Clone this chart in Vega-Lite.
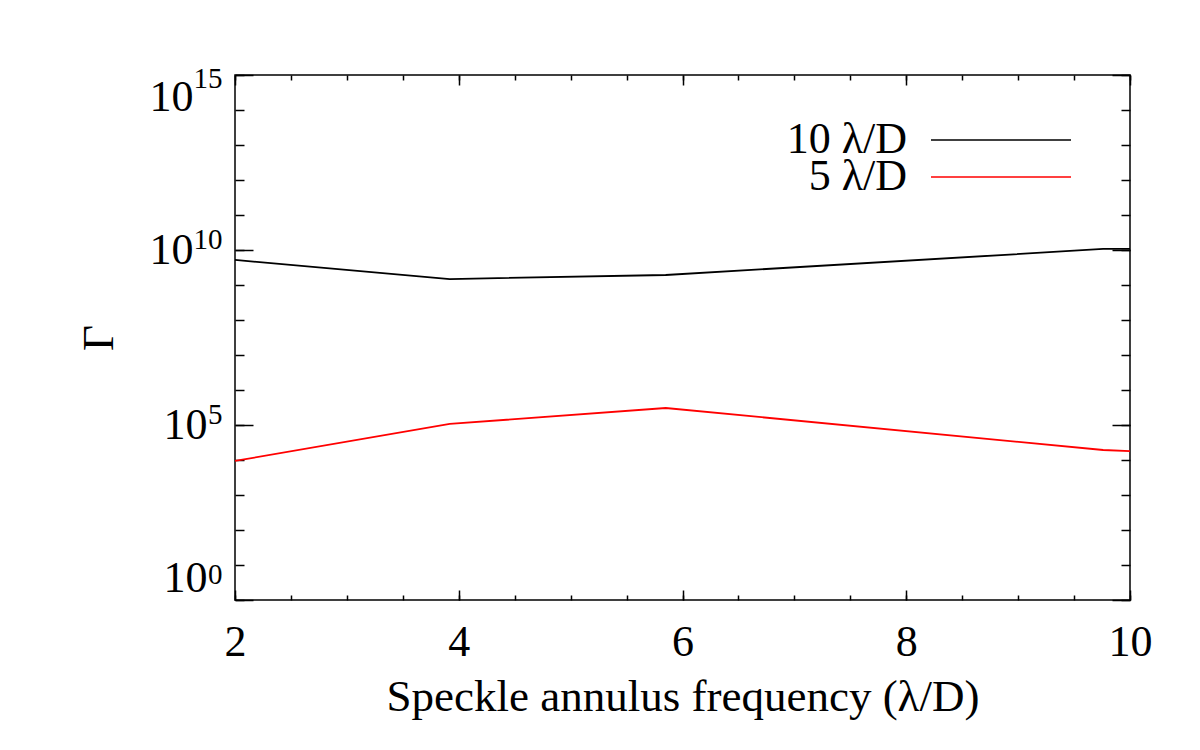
{
  "$schema": "https://vega.github.io/schema/vega-lite/v6.json",
  "width": 895,
  "height": 525,
  "autosize": {"type": "none"},
  "padding": {"left": 235, "top": 75, "right": 70, "bottom": 150},
  "background": "white",
  "config": {
    "font": "Liberation Serif",
    "view": {"stroke": "black", "strokeWidth": 1.5},
    "axis": {
      "domain": false,
      "grid": false,
      "tickColor": "black",
      "tickWidth": 1.5,
      "labelFont": "Liberation Serif",
      "titleFont": "Liberation Serif",
      "labelColor": "black",
      "titleColor": "black",
      "labelFontSize": 44,
      "titleFontSize": 45,
      "titleFontWeight": "normal"
    }
  },
  "data": {
    "values": [
      {"series": "10 λ/D", "freq": 2, "gamma": 5.2e9},
      {"series": "10 λ/D", "freq": 3.92, "gamma": 1.48e9},
      {"series": "10 λ/D", "freq": 5.85, "gamma": 1.93e9},
      {"series": "10 λ/D", "freq": 9.76, "gamma": 1.07e10},
      {"series": "10 λ/D", "freq": 10, "gamma": 1.07e10},
      {"series": "5 λ/D", "freq": 2, "gamma": 9400},
      {"series": "5 λ/D", "freq": 3.92, "gamma": 1.07e5},
      {"series": "5 λ/D", "freq": 5.85, "gamma": 3.06e5},
      {"series": "5 λ/D", "freq": 9.76, "gamma": 1.93e4},
      {"series": "5 λ/D", "freq": 10, "gamma": 1.8e4}
    ]
  },
  "layer": [
    {
      "mark": {"type": "line", "strokeWidth": 1.8},
      "encoding": {
        "x": {
          "field": "freq", "type": "quantitative",
          "scale": {"domain": [2, 10], "nice": false, "zero": false},
          "axis": {"orient": "bottom", "values": [2, 4, 6, 8, 10], "ticks": false, "labelPadding": 20, "labelFlush": false, "labelOverlap": false, "title": "Speckle annulus frequency (λ/D)", "titlePadding": 10}
        },
        "y": {
          "field": "gamma", "type": "quantitative",
          "scale": {"type": "log", "domain": [1, 1e15], "nice": false},
          "axis": {"orient": "left", "values": [10000000000, 1000000000000000], "ticks": false, "labelPadding": 42, "labelFlush": true, "labelOverlap": false,
            "labelExpr": "'10'",
            "title": "Γ", "titlePadding": 28}
        },
        "color": {
          "field": "series", "type": "nominal",
          "scale": {"domain": ["10 λ/D", "5 λ/D"], "range": ["black", "red"]},
          "legend": {"orient": "none", "legendX": 674, "legendY": 43, "values": ["10 λ/D"], "title": null, "symbolType": "M0,0H14", "symbolSize": 400, "symbolStrokeWidth": 1.5, "labelAlign": "right", "labelOffset": -46, "labelFontSize": 44, "labelFont": "Liberation Serif", "labelColor": "black", "padding": 0}
        }
      }
    },
    {
      "mark": {"type": "point", "opacity": 0},
      "encoding": {
        "x": {"field": "freq", "type": "quantitative", "scale": {"domain": [2, 10], "nice": false, "zero": false},
          "axis": {"orient": "bottom", "values": [2, 4, 6, 8, 10], "labels": false, "tickSize": -10, "title": null}},
        "y": {"field": "gamma", "type": "quantitative", "scale": {"type": "log", "domain": [1, 1e15], "nice": false},
          "axis": {"orient": "left", "values": [1, 100000, 10000000000, 1000000000000000], "labels": false, "tickSize": -18, "title": null}}
      }
    },
    {
      "mark": {"type": "point", "opacity": 0},
      "encoding": {
        "x": {"field": "freq", "type": "quantitative", "scale": {"domain": [2, 10], "nice": false, "zero": false},
          "axis": {"orient": "bottom", "values": [2, 2.5, 3, 3.5, 4, 4.5, 5, 5.5, 6, 6.5, 7, 7.5, 8, 8.5, 9, 9.5, 10], "labels": false, "tickSize": -5, "title": null}},
        "y": {"field": "gamma", "type": "quantitative", "scale": {"type": "log", "domain": [1, 1e15], "nice": false},
          "axis": {"orient": "left", "values": [1, 10, 100, 1000, 10000, 100000, 1000000, 10000000, 100000000, 1000000000, 10000000000, 100000000000, 1000000000000, 10000000000000, 100000000000000, 1000000000000000], "labels": false, "tickSize": -9, "title": null}}
      }
    },
    {
      "mark": {"type": "point", "opacity": 0},
      "encoding": {
        "x": {"field": "freq", "type": "quantitative", "scale": {"domain": [2, 10], "nice": false, "zero": false},
          "axis": {"orient": "top", "values": [2, 4, 6, 8, 10], "labels": false, "tickSize": -10, "title": null}},
        "y": {"field": "gamma", "type": "quantitative", "scale": {"type": "log", "domain": [1, 1e15], "nice": false},
          "axis": {"orient": "right", "values": [1, 100000, 10000000000, 1000000000000000], "labels": false, "tickSize": -18, "title": null}}
      }
    },
    {
      "mark": {"type": "point", "opacity": 0},
      "encoding": {
        "x": {"field": "freq", "type": "quantitative", "scale": {"domain": [2, 10], "nice": false, "zero": false},
          "axis": {"orient": "top", "values": [2, 2.5, 3, 3.5, 4, 4.5, 5, 5.5, 6, 6.5, 7, 7.5, 8, 8.5, 9, 9.5, 10], "labels": false, "tickSize": -5, "title": null}},
        "y": {"field": "gamma", "type": "quantitative", "scale": {"type": "log", "domain": [1, 1e15], "nice": false},
          "axis": {"orient": "right", "values": [1, 10, 100, 1000, 10000, 100000, 1000000, 10000000, 100000000, 1000000000, 10000000000, 100000000000, 1000000000000, 10000000000000, 100000000000000, 1000000000000000], "labels": false, "tickSize": -9, "title": null}}
      }
    },
    {
      "mark": {"type": "point", "opacity": 0, "filled": false},
      "encoding": {
        "x": {"field": "freq", "type": "quantitative", "scale": {"domain": [2, 10], "nice": false, "zero": false}, "axis": null},
        "y": {"field": "gamma", "type": "quantitative", "scale": {"type": "log", "domain": [1, 1e15], "nice": false},
          "axis": {"orient": "left", "values": [1, 100000], "ticks": false, "labelPadding": 28, "labelFlush": true, "labelOverlap": false, "labelExpr": "'10'", "title": null}},
        "color": {
          "field": "series", "type": "nominal",
          "scale": {"domain": ["10 λ/D", "5 λ/D"], "range": ["black", "red"]},
          "legend": {"orient": "none", "legendX": 674, "legendY": 80, "values": ["5 λ/D"], "title": null, "symbolType": "M0,0H14", "symbolSize": 400, "symbolStrokeWidth": 1.5, "symbolOpacity": 1, "labelAlign": "right", "labelOffset": -46, "labelFontSize": 44, "labelFont": "Liberation Serif", "labelColor": "black", "padding": 0}
        }
      }
    },
    {
      "mark": {"type": "point", "opacity": 0},
      "encoding": {
        "x": {"field": "freq", "type": "quantitative", "scale": {"domain": [2, 10], "nice": false, "zero": false}, "axis": null},
        "y": {"field": "gamma", "type": "quantitative", "scale": {"type": "log", "domain": [1, 1e15], "nice": false},
          "axis": {"orient": "left", "values": [1, 100000, 10000000000, 1000000000000000], "ticks": false, "labelPadding": 13, "labelFlush": true, "labelOverlap": false, "labelFontSize": 29, "labelOffset": -11,
            "labelExpr": "datum.value < 10 ? '0' : datum.value < 1e6 ? '5' : datum.value < 1e11 ? '10' : '15'", "title": null}}
      }
    }
  ],
  "resolve": {"axis": {"x": "independent", "y": "independent"}, "legend": {"color": "independent"}}
}
